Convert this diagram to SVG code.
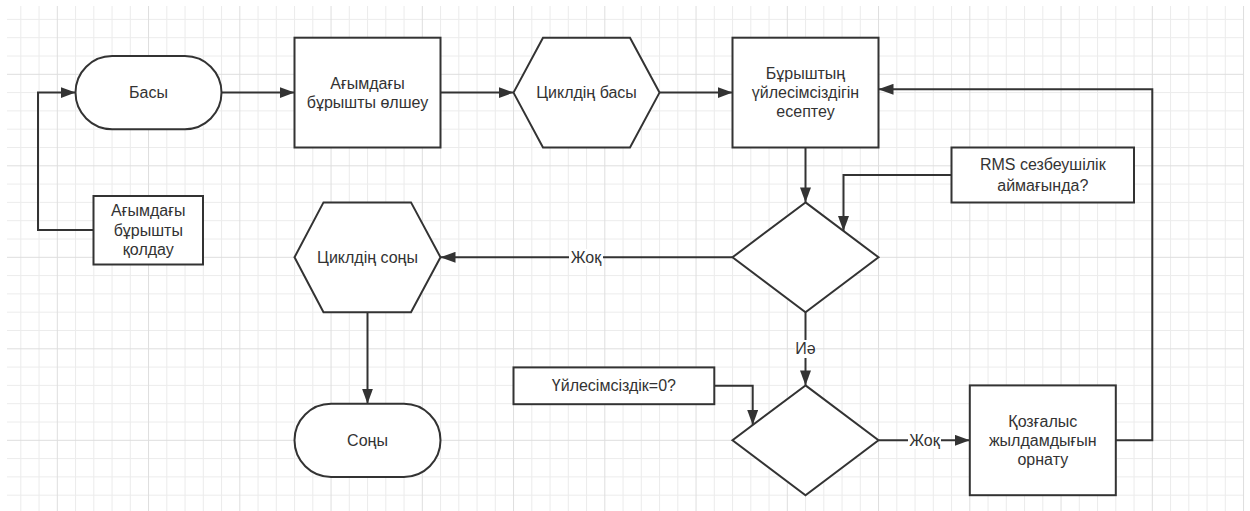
<svg xmlns="http://www.w3.org/2000/svg" width="1250" height="511" viewBox="0 0 1250 511">
<style>
.minor{stroke:#ececec;stroke-width:1;fill:none}
.major{stroke:#dedede;stroke-width:1;fill:none}
.shape{fill:#ffffff;stroke:#333333;stroke-width:2}
.conn{fill:none;stroke:#333333;stroke-width:2}
.t{font-family:"Liberation Sans",Arial,sans-serif;font-size:16px;fill:#333333;text-anchor:middle;dominant-baseline:central}
.lblbg{fill:#ffffff}
</style>
<defs>
<marker id="arr" markerUnits="userSpaceOnUse" markerWidth="15" markerHeight="11" refX="15" refY="5.5" orient="auto">
<path d="M0,0 L15,5.5 L0,11 Z" fill="#333333"/>
</marker>
</defs>
<rect x="0" y="0" width="1250" height="511" fill="#ffffff"/>
<g id="grid">
<path class="minor" d="M20.8,6V511M39.05,6V511M75.55,6V511M93.8,6V511M112.05,6V511M130.3,6V511M166.8,6V511M185.05,6V511M203.3,6V511M221.55,6V511M258.05,6V511M276.3,6V511M294.55,6V511M312.8,6V511M349.3,6V511M367.55,6V511M385.8,6V511M404.05,6V511M440.55,6V511M458.8,6V511M477.05,6V511M495.3,6V511M531.8,6V511M550.05,6V511M568.3,6V511M586.55,6V511M623.05,6V511M641.3,6V511M659.55,6V511M677.8,6V511M714.3,6V511M732.55,6V511M750.8,6V511M769.05,6V511M805.55,6V511M823.8,6V511M842.05,6V511M860.3,6V511M896.8,6V511M915.05,6V511M933.3,6V511M951.55,6V511M988.05,6V511M1006.3,6V511M1024.55,6V511M1042.8,6V511M1079.3,6V511M1097.55,6V511M1115.8,6V511M1134.05,6V511M1170.55,6V511M1188.8,6V511M1207.05,6V511M1225.3,6V511"/>
<path class="minor" d="M7,19.4H1244M7,37.7H1244M7,56H1244M7,92.6H1244M7,110.9H1244M7,129.2H1244M7,147.5H1244M7,184.1H1244M7,202.4H1244M7,220.7H1244M7,239H1244M7,275.6H1244M7,293.9H1244M7,312.2H1244M7,330.5H1244M7,367.1H1244M7,385.4H1244M7,403.7H1244M7,422H1244M7,458.6H1244M7,476.9H1244M7,495.2H1244"/>
<path class="major" d="M57.3,6V511M148.55,6V511M239.8,6V511M331.05,6V511M422.3,6V511M513.55,6V511M604.8,6V511M696.05,6V511M787.3,6V511M878.55,6V511M969.8,6V511M1061.05,6V511M1152.3,6V511M1243.55,6V511"/>
<path class="major" d="M7,74.3H1244M7,165.8H1244M7,257.3H1244M7,348.8H1244M7,440.3H1244"/>
</g>
<g id="connectors">
<path class="conn" d="M221.5,92.6H294.5" marker-end="url(#arr)"/>
<path class="conn" d="M440.5,92.6H513.5" marker-end="url(#arr)"/>
<path class="conn" d="M659.5,92.6H732.5" marker-end="url(#arr)"/>
<path class="conn" d="M805.5,147.5V202.4" marker-end="url(#arr)"/>
<path class="conn" d="M951.5,175H843.5V231" marker-end="url(#arr)"/>
<path class="conn" d="M732.5,257.3H440.5" marker-end="url(#arr)"/>
<path class="conn" d="M805.5,312.2V385.4" marker-end="url(#arr)"/>
<path class="conn" d="M367.5,312.2V403.7" marker-end="url(#arr)"/>
<path class="conn" d="M714.3,385.7H752.7V425" marker-end="url(#arr)"/>
<path class="conn" d="M878.5,440.3H969.8" marker-end="url(#arr)"/>
<path class="conn" d="M1115.8,440.3H1152.3V89.3H878.5" marker-end="url(#arr)"/>
<path class="conn" d="M93.5,230H38V92.6H75.5" marker-end="url(#arr)"/>
<rect class="lblbg" x="569" y="249" width="34" height="17"/>
<text class="t" x="586" y="257.3">Жоқ</text>
<rect class="lblbg" x="795" y="340" width="21" height="18"/>
<text class="t" x="805.5" y="348.5">Иә</text>
<rect class="lblbg" x="908" y="432" width="33" height="17"/>
<text class="t" x="924.5" y="440.3">Жоқ</text>
</g>
<g id="start">
<rect class="shape" x="75.5" y="56" width="146" height="73.2" rx="36.6" ry="36.6"/>
<text class="t" x="148.5" y="92.6">Басы</text>
</g>
<g id="measure">
<rect class="shape" x="294.5" y="37.7" width="146" height="109.8"/>
<text class="t" x="367.5" y="83">Ағымдағы</text>
<text class="t" x="367.5" y="102.5">бұрышты өлшеу</text>
</g>
<g id="loop-start">
<polygon class="shape" points="513.5,92.6 543,37.7 630,37.7 659.5,92.6 630,147.5 543,147.5"/>
<text class="t" x="586.5" y="92.6">Циклдің басы</text>
</g>
<g id="compute">
<rect class="shape" x="732.5" y="37.7" width="146" height="109.8"/>
<text class="t" x="805.5" y="73.5">Бұрыштың</text>
<text class="t" x="805.5" y="92.6">үйлесімсіздігін</text>
<text class="t" x="805.5" y="111.7">есептеу</text>
</g>
<g id="rms">
<rect class="shape" x="951.5" y="147.5" width="182.5" height="55"/>
<text class="t" x="1042.8" y="164">RMS сезбеушілік</text>
<text class="t" x="1042.8" y="185.5">аймағында?</text>
</g>
<g id="decision1">
<polygon class="shape" points="805.5,202.4 878.5,257.3 805.5,312.2 732.5,257.3"/>
</g>
<g id="loop-end">
<polygon class="shape" points="294.5,257.3 323.5,202.4 411,202.4 440.5,257.3 411,312.2 323.5,312.2"/>
<text class="t" x="367.5" y="257.3">Циклдің соңы</text>
</g>
<g id="end">
<rect class="shape" x="294.5" y="403.7" width="146" height="73.2" rx="36.6" ry="36.6"/>
<text class="t" x="367.5" y="440.3">Соңы</text>
</g>
<g id="zero-check">
<rect class="shape" x="513.5" y="367.4" width="200.8" height="36.8"/>
<text class="t" x="613.9" y="385.8">Үйлесімсіздік=0?</text>
</g>
<g id="decision2">
<polygon class="shape" points="805.5,385.4 878.5,440.3 805.5,495.2 732.5,440.3"/>
</g>
<g id="speed">
<rect class="shape" x="969.8" y="385.4" width="146" height="109.8"/>
<text class="t" x="1042.8" y="421">Қозғалыс</text>
<text class="t" x="1042.8" y="440.3">жылдамдығын</text>
<text class="t" x="1042.8" y="459.6">орнату</text>
</g>
<g id="hold">
<rect class="shape" x="93.5" y="196" width="109.5" height="68.5"/>
<text class="t" x="148.3" y="210.5">Ағымдағы</text>
<text class="t" x="148.3" y="230">бұрышты</text>
<text class="t" x="148.3" y="249.5">қолдау</text>
</g>
</svg>
